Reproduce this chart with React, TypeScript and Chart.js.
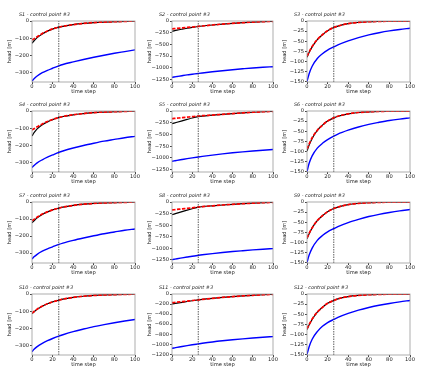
import React, { useEffect, useRef } from 'react';
import { Chart, registerables } from 'chart.js';
Chart.register(...registerables);

// ---------- data ----------
const STEPS = [0, 2, 5, 10, 15, 20, 26, 30, 40, 50, 60, 70, 80, 90, 100];
const MARK_STEP = 26;
const X_TICKS = [0, 20, 40, 60, 80, 100];
const TITLES = [
  'S1 - control point #3', 'S2 - control point #3', 'S3 - control point #3',
  'S4 - control point #3', 'S5 - control point #3', 'S6 - control point #3',
  'S7 - control point #3', 'S8 - control point #3', 'S9 - control point #3',
  'S10 - control point #3', 'S11 - control point #3', 'S12 - control point #3',
];
const Y_MIN = [-355, -1305, -151, -354, -1300, -151, -358, -1315, -151, -355, -1215, -151];
const Y_TICKS_A = [0, -100, -200, -300];
const Y_TICKS_B = [0, -250, -500, -750, -1000, -1250];
const Y_TICKS_B2 = [0, -200, -400, -600, -800, -1000, -1200];
const Y_TICKS_C = [0, -25, -50, -75, -100, -125, -150];
const Y_TICKS = [
  Y_TICKS_A, Y_TICKS_B, Y_TICKS_C,
  Y_TICKS_A, Y_TICKS_B, Y_TICKS_C,
  Y_TICKS_A, Y_TICKS_B, Y_TICKS_C,
  Y_TICKS_A, Y_TICKS_B2, Y_TICKS_C,
];
const X_LABEL = 'time step';
const Y_LABEL = 'head [m]';

const S1_BLUE = [-350, -336, -320, -301, -287, -275, -261, -253, -238, -224, -211, -199, -188, -178, -168];
const S1_BLACK = [-130, -115, -97, -75, -59, -47, -36, -31, -21, -14, -9, -6, -4, -2, -1];
const S1_RED = [-110, -104, -92, -73, -58, -46, -36, -31, -21, -14, -9, -6, -4, -2, -1];

const S2_BLUE = [-1207, -1199, -1188, -1170, -1153, -1139, -1122, -1111, -1086, -1063, -1042, -1023, -1005, -990, -978];
const S2_BLACK = [-220, -210, -196, -175, -155, -137, -118, -107, -85, -66, -50, -36, -24, -14, -6];
const S2_RED = [-170, -165, -158, -148, -138, -128, -116, -107, -85, -66, -50, -36, -24, -14, -6];

const S3_BLUE = [-150, -131, -112, -93, -81, -72, -64, -59, -49, -41, -34.5, -29, -24.5, -21, -18];
const S3_BLACK = [-90, -78, -64, -46, -34, -24, -16, -12.5, -6.5, -3.5, -1.8, -1, -0.5, -0.3, -0.1];
const S3_RED = [-87, -77, -63, -46, -34, -24, -16, -12.5, -6.5, -3.5, -1.8, -1, -0.5, -0.3, -0.1];

const S4_BLUE = [-328, -316, -301, -283, -268, -255, -240, -232, -215, -200, -187, -175, -165, -155, -147];
const S4_BLACK = [-145, -126, -104, -80, -63, -50, -38, -32, -22, -15, -9, -6, -4, -2, -1];
const S4_RED = [-110, -103, -92, -75, -61, -49, -38, -32, -22, -15, -9, -6, -4, -2, -1];

const S5_BLUE = [-1072, -1064, -1052, -1034, -1016, -999, -980, -968, -940, -914, -891, -870, -852, -836, -822];
const S5_BLACK = [-270, -258, -240, -210, -180, -150, -120, -108, -88, -70, -54, -40, -27, -16, -7];
const S5_RED = [-163, -159, -153, -143, -132, -121, -108, -100, -86, -70, -54, -40, -27, -16, -7];

const S6_BLUE = [-150, -130, -111, -92, -80, -71, -62, -57, -47.5, -39.5, -33, -28, -23.5, -20, -17];
const S6_BLACK = [-99, -85, -68, -48, -35, -25, -17, -13, -7, -3.7, -2, -1, -0.5, -0.3, -0.1];
const S6_RED = [-94, -82, -66, -48, -35, -25, -17, -13, -7, -3.7, -2, -1, -0.5, -0.3, -0.1];

const S7_BLUE = [-335, -322, -307, -289, -275, -263, -249, -241, -225, -211, -198, -186, -176, -166, -158];
const S7_BLACK = [-122, -110, -93, -73, -58, -46, -36, -30, -20, -13, -8.5, -5.5, -3.5, -2, -1];
const S7_RED = [-110, -102, -89, -71, -58, -46, -36, -30, -20, -13, -8.5, -5.5, -3.5, -2, -1];

const S8_BLUE = [-1243, -1235, -1223, -1205, -1187, -1169, -1150, -1138, -1112, -1089, -1068, -1050, -1033, -1018, -1005];
const S8_BLACK = [-273, -260, -240, -208, -176, -146, -110, -100, -82, -65, -50, -37, -25, -15, -7];
const S8_RED = [-172, -167, -160, -148, -137, -125, -110, -100, -82, -65, -50, -37, -25, -15, -7];

const S9_BLUE = [-150, -132, -114, -95, -83, -74, -66, -61, -51, -43, -36, -30.5, -26, -22, -18.5];
const S9_BLACK = [-91, -79, -64, -46, -34, -24, -16, -12.5, -6.5, -3.5, -1.8, -1, -0.5, -0.3, -0.1];
const S9_RED = [-89, -78, -64, -46, -34, -24, -16, -12.5, -6.5, -3.5, -1.8, -1, -0.5, -0.3, -0.1];

const S10_BLUE = [-336, -322, -306, -287, -272, -259, -245, -237, -219, -204, -190, -178, -167, -157, -148];
const S10_BLACK = [-115, -104, -89, -71, -57, -46, -36, -30, -20, -13, -8.5, -5.5, -3.5, -2, -1];
const S10_RED = [-112, -102, -88, -71, -57, -46, -36, -30, -20, -13, -8.5, -5.5, -3.5, -2, -1];

const S11_BLUE = [-1082, -1075, -1063, -1045, -1028, -1012, -994, -982, -955, -932, -912, -894, -877, -862, -848];
const S11_BLACK = [-199, -192, -182, -166, -150, -135, -118, -108, -87, -68, -52, -38, -26, -15, -7];
const S11_RED = [-173, -169, -162, -152, -141, -130, -117, -108, -87, -68, -52, -38, -26, -15, -7];

const S12_BLUE = [-150, -131, -112, -93, -80, -71, -63, -58, -48, -40, -33.5, -28, -23.5, -19.5, -16];
const S12_BLACK = [-88, -77, -63, -45, -33, -23, -16, -12, -6.3, -3.4, -1.8, -1, -0.5, -0.3, -0.1];
const S12_RED = [-86, -76, -62, -45, -33, -23, -16, -12, -6.3, -3.4, -1.8, -1, -0.5, -0.3, -0.1];

const BLUE = [S1_BLUE, S2_BLUE, S3_BLUE, S4_BLUE, S5_BLUE, S6_BLUE, S7_BLUE, S8_BLUE, S9_BLUE, S10_BLUE, S11_BLUE, S12_BLUE];
const BLACK = [S1_BLACK, S2_BLACK, S3_BLACK, S4_BLACK, S5_BLACK, S6_BLACK, S7_BLACK, S8_BLACK, S9_BLACK, S10_BLACK, S11_BLACK, S12_BLACK];
const RED = [S1_RED, S2_RED, S3_RED, S4_RED, S5_RED, S6_RED, S7_RED, S8_RED, S9_RED, S10_RED, S11_RED, S12_RED];

// ---------- layout ----------
const COL_LEFT = [32, 172, 307];
const COL_RIGHT = [135, 273, 410];
const ROW_TOP = [21, 111, 202, 294];
const ROW_BOTTOM = [82, 172, 263, 355];
const Y_AXIS_W = 25;
const X_AXIS_H = 14;
const PAD_TOP = 16;
const PAD_RIGHT = 8;
const FONT = 'DejaVu Sans';
const FS = 5.2;
const TITLE_FS = 4.9;

const fmt = (v: number) => (v < 0 ? '\u2212' + Math.abs(v) : String(v));

const decorPlugin = {
  id: 'panelDecor',
  afterDatasetsDraw(chart: any, _a: any, opts: any) {
    const { ctx, chartArea } = chart;
    const { left, top, right, bottom } = chartArea;
    ctx.save();
    ctx.strokeStyle = '#9a9a9a';
    ctx.lineWidth = 0.8;
    ctx.strokeRect(left, top, right - left, bottom - top);
    ctx.fillStyle = '#222';
    ctx.font = `italic ${TITLE_FS}px "${FONT}"`;
    ctx.textAlign = 'left';
    ctx.textBaseline = 'middle';
    ctx.fillText(opts.text, left - 13, top - 6);
    ctx.restore();
  },
};

function Panel({ idx }: { idx: number }) {
  const ref = useRef<HTMLCanvasElement>(null);
  const col = idx % 3;
  const row = Math.floor(idx / 3);
  const plotW = COL_RIGHT[col] - COL_LEFT[col];
  const plotH = ROW_BOTTOM[row] - ROW_TOP[row];
  const w = plotW + Y_AXIS_W + PAD_RIGHT;
  const h = plotH + PAD_TOP + X_AXIS_H;
  const left = COL_LEFT[col] - Y_AXIS_W;
  const top = ROW_TOP[row] - PAD_TOP;

  useEffect(() => {
    const yMin = Y_MIN[idx];
    const pts = (arr: number[]) => STEPS.map((x, i) => ({ x, y: arr[i] }));
    const line = { pointRadius: 0, fill: false, cubicInterpolationMode: 'monotone' as const };
    const tickFont = { family: FONT, size: FS };
    const chart = new Chart(ref.current!, {
      type: 'line',
      data: {
        datasets: [
          { ...line, data: pts(BLUE[idx]), borderColor: '#0000ff', borderWidth: 1.4, order: 3 },
          { ...line, data: pts(BLACK[idx]), borderColor: '#000000', borderWidth: 1.2, order: 2 },
          { ...line, data: pts(RED[idx]), borderColor: '#ff0000', borderWidth: 1.7, borderDash: [3.5, 1.5], order: 1 },
          {
            data: [{ x: MARK_STEP, y: yMin }, { x: MARK_STEP, y: 0 }],
            borderColor: '#333333', borderWidth: 0.8, borderDash: [1.5, 1], pointRadius: 0, tension: 0, order: 0,
          },
        ],
      },
      options: {
        animation: false,
        responsive: false,
        events: [],
        layout: { padding: { left: 0, top: PAD_TOP, right: PAD_RIGHT, bottom: 0 } },
        plugins: {
          legend: { display: false },
          tooltip: { enabled: false },
          // @ts-ignore
          panelDecor: { text: TITLES[idx] },
        },
        scales: {
          x: {
            type: 'linear', min: 0, max: 100,
            afterBuildTicks: (s: any) => { s.ticks = X_TICKS.map((v) => ({ value: v })); },
            ticks: { font: tickFont, color: '#222', padding: 0, maxRotation: 0, autoSkip: false },
            grid: { drawOnChartArea: false, drawTicks: true, tickLength: 2, color: '#444' },
            border: { display: false },
            title: { display: true, text: X_LABEL, font: tickFont, color: '#222', padding: { top: 0, bottom: 1 } },
            afterFit: (s: any) => { s.height = X_AXIS_H; },
          },
          y: {
            type: 'linear', min: yMin, max: 0,
            afterBuildTicks: (s: any) => { s.ticks = Y_TICKS[idx].map((v) => ({ value: v })); },
            ticks: {
              font: tickFont, color: '#222', padding: 1, autoSkip: false,
              callback: (v: any) => fmt(Number(v)),
            },
            grid: { drawOnChartArea: false, drawTicks: true, tickLength: 2, color: '#444' },
            border: { display: false },
            title: { display: true, text: Y_LABEL, font: tickFont, color: '#222', padding: { top: 0, bottom: 0 } },
            afterFit: (s: any) => { s.width = Y_AXIS_W; },
          },
        },
      },
      plugins: [decorPlugin],
    } as any);
    return () => chart.destroy();
  }, [idx]);

  return (
    <canvas
      ref={ref}
      width={w}
      height={h}
      style={{ position: 'absolute', left, top, width: w, height: h }}
    />
  );
}

export default function App() {
  return (
    <div style={{ position: 'absolute', left: 0, top: 0, width: 423, height: 376, background: '#fff', overflow: 'hidden' }}>
      {TITLES.map((_, i) => <Panel key={i} idx={i} />)}
    </div>
  );
}
